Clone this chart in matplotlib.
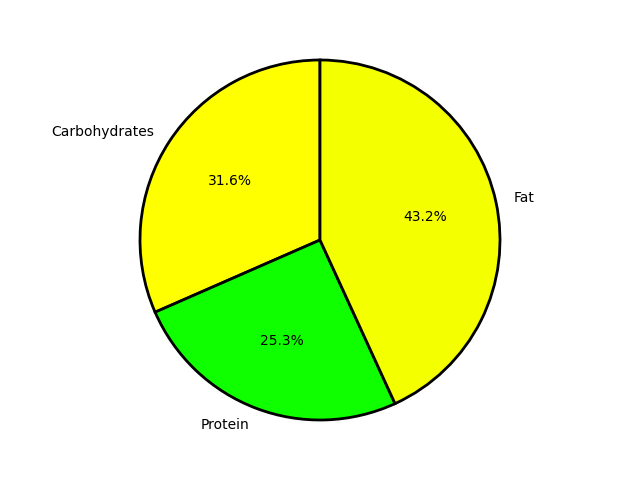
import matplotlib
matplotlib.use("Agg")
import matplotlib.pyplot as plt

# macronutrient split
labels = ['Carbohydrates', 'Protein', 'Fat']
shares = [31.6, 25.3, 43.2]
colors = ['#ffff00', '#10ff00', '#f4ff00']

fig = plt.figure(figsize=(6.4, 4.8), dpi=100)
ax = fig.add_axes([0, 0.03125, 1, 0.9375])
ax.pie(shares, labels=labels, colors=colors, autopct='%1.1f%%', startangle=90,
       wedgeprops={'edgecolor': 'black', 'linewidth': 2})

plt.savefig('out.png')
